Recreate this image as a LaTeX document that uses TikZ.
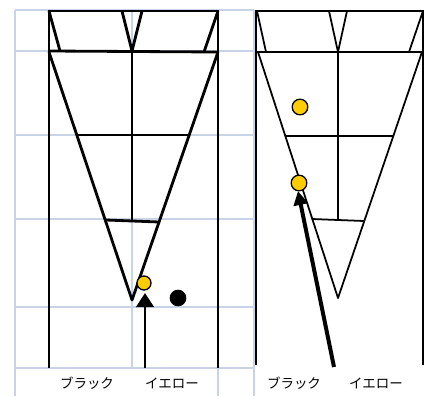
\documentclass[tikz,border=0pt]{standalone}
\usepackage{fontspec}
\newfontfamily\cjk{Noto Sans CJK JP}
\usetikzlibrary{arrows.meta}
\definecolor{gridblue}{HTML}{C9D3E6}
\definecolor{dotyellow}{HTML}{FFCC00}

\begin{document}
\begin{tikzpicture}[
    x=0.03cm, y=-0.03cm,
    gridline/.style={draw=gridblue, line width=1.5pt},
    frameL/.style={line width=2.4pt, line join=round},
    frameR/.style={line width=1.5pt, line join=round},
    yellowdot/.style={circle, draw, fill=dotyellow, line width=1.1pt, inner sep=0pt, minimum size=#1},
    blackdot/.style={circle, fill=black, inner sep=0pt, minimum size=0.5cm},
    tagtext/.style={font=\cjk\fontsize{11.5pt}{13pt}\selectfont, inner sep=0pt},
    arrowL/.style={-{Triangle[length=0.42cm, width=0.52cm]}, line width=2.5pt},
    arrowR/.style={-{Triangle[length=0.42cm, width=0.42cm]}, line width=3.4pt}
]
\useasboundingbox[fill=white] (0,0) rectangle (427,396);

% grid behind the left panel
\draw[gridline] (15,10) -- (15,396);
\draw[gridline] (132,10) -- (132,368);
\draw[gridline] (218,368) -- (218,396);
\draw[gridline] (254,10) -- (254,396);
\foreach \gy in {10,51,135,219,307,368}
    \draw[gridline] (15,\gy) -- (254,\gy);

% left panel
\draw[frameL] (49,10) -- (49,368);
\draw[frameL] (218,10) -- (218,368);
\draw[frameL] (49,11) -- (218,11);
\draw[frameL] (49,51) -- (218,52);
\draw[frameL] (49,11) -- (60,51);
\draw[frameL] (122,11) -- (132,51) -- (142,11);
\draw[frameL] (218,11) -- (204,52);
\draw[frameL] (49,52) -- (132,300) -- (218,52);
\draw[frameL] (132,51) -- (132,221);
\draw[frameL] (77,135) -- (189,135);
\draw[frameL] (106,220) -- (159,222);

\node[yellowdot=0.42cm] (yelL) at (144,283) {};
\node[blackdot] (blkL) at (178,298) {};
\coordinate (tailL) at (145,368);
\coordinate (tipL) at (145,293);
\draw[arrowL] (tailL) -- (tipL);

\node[tagtext] (blackL) at (87,383) {ブラック};
\node[tagtext] (yellowL) at (172,383) {イエロー};

% right panel
\draw[frameR] (256,10) -- (256,365);
\draw[frameR] (423,10) -- (423,365);
\draw[frameR] (256,11) -- (423,11);
\draw[frameR] (256,52) -- (423,52);
\draw[frameR] (257,11) -- (266,52);
\draw[frameR] (329,11) -- (338,52) -- (347,11);
\draw[frameR] (423,11) -- (409,52);
\draw[frameR] (258,52) -- (338,298) -- (422,52);
\draw[frameR] (338,52) -- (338,220);
\draw[frameR] (285,136) -- (393,136);
\draw[frameR] (312,219) -- (364,221);

\node[yellowdot=0.47cm] (yelTop) at (300,107) {};
\node[yellowdot=0.47cm] (yelR) at (299,183) {};
\coordinate (tailR) at (334,367);
\coordinate (tipR) at (298,191);
\draw[arrowR] (tailR) -- (tipR);

\node[tagtext] (blackR) at (294,383) {ブラック};
\node[tagtext] (yellowR) at (376,383) {イエロー};
\end{tikzpicture}
\end{document}
